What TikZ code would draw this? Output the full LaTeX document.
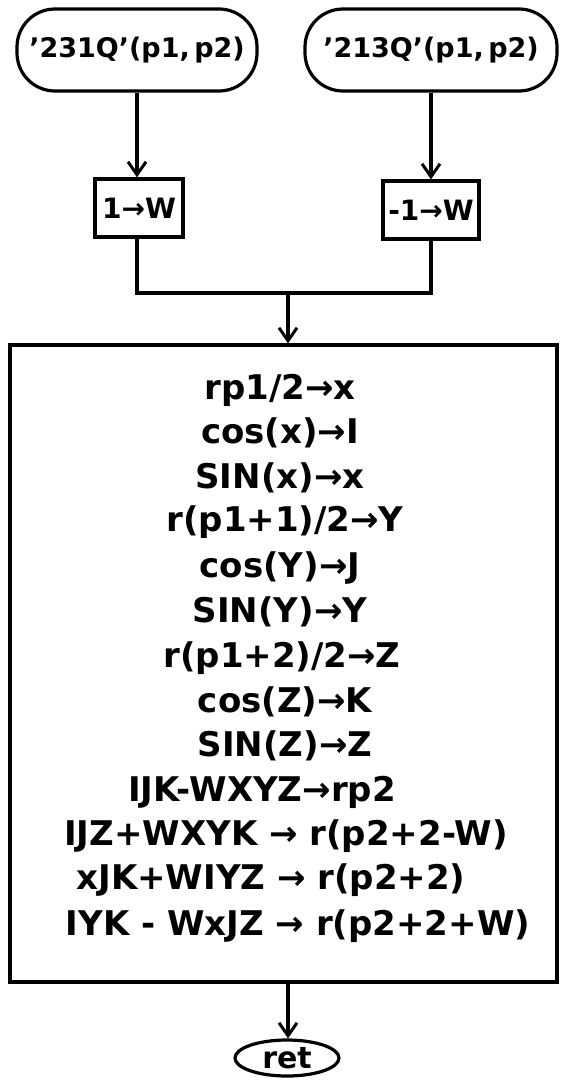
\documentclass[tikz,border=0pt]{standalone}
\usepackage{fontspec}
\setmainfont{DejaVu Sans}
\usetikzlibrary{arrows.meta,shapes.geometric}
\begin{document}
\begin{tikzpicture}[x=1pt,y=-1pt,
  every node/.style={font=\bfseries\fontsize{34}{40}\selectfont},
  lw/.style={line width=3.2pt},
  term/.style={lw,draw,rectangle,rounded corners=38pt,inner sep=0pt,font=\bfseries\fontsize{27}{32}\selectfont},
  procbox/.style={lw,draw,rectangle,inner sep=0pt,font=\bfseries\fontsize{28}{32}\selectfont},
  ln/.style={inner sep=0pt,anchor=center},
  flow/.style={lw,-{Straight Barb[length=13pt,width=18pt,line width=3pt]}},
  conn/.style={lw}]
\useasboundingbox (0,0) rectangle (565,1084);
\node[term,minimum width=240pt,minimum height=82pt] (t1) at (137,50) {'231Q'(p1,\,p2)};
\node[term,minimum width=252pt,minimum height=82pt] (t2) at (431,50) {'213Q'(p1,\,p2)};
\node[procbox,minimum width=88pt,minimum height=58pt] (b1) at (139,208) {1→W};
\node[procbox,minimum width=96pt,minimum height=58pt] (b2) at (431,210) {-1→W};
\node[procbox,minimum width=547pt,minimum height=637pt] (m) at (283.5,663.5) {};
\node[lw,draw,ellipse,minimum width=104pt,minimum height=36pt,inner sep=0pt,font=\bfseries\fontsize{30}{34}\selectfont] (r) at (287,1058) {ret};
\coordinate (j) at (288,293);
\draw[flow] (t1.south) -- (t1.south |- b1.north);
\draw[flow] (t2) -- (b2);
\draw[conn] (b1.south -| t1.south) -- (t1.south |- j) -- (b2.south |- j) -- (b2.south);
\draw[flow] (j) -- (j |- m.north);
\draw[flow] (m.south -| j) -- (r.north -| j);
\node[ln] (l1) at (280,390) {rp1/2→x};
\node[ln] (l2) at (280,433) {cos(x)→I};
\node[ln] (l3) at (280,478) {SIN(x)→x};
\node[ln] (l4) at (285,522) {r(p1+1)/2→Y};
\node[ln] (l5) at (280,568) {cos(Y)→J};
\node[ln] (l6) at (280,612) {SIN(Y)→Y};
\node[ln] (l7) at (282,658) {r(p1+2)/2→Z};
\node[ln] (l8) at (285,702) {cos(Z)→K};
\node[ln] (l9) at (285,746) {SIN(Z)→Z};
\node[ln] (l10) at (262,792) {IJK-WXYZ→rp2};
\node[ln] (l11) at (286,836) {IJZ+WXYK → r(p2+2-W)};
\node[ln] (l12) at (271,880) {xJK+WIYZ → r(p2+2)};
\node[ln] (l13) at (298,926) {IYK - WxJZ → r(p2+2+W)};
\end{tikzpicture}
\end{document}
